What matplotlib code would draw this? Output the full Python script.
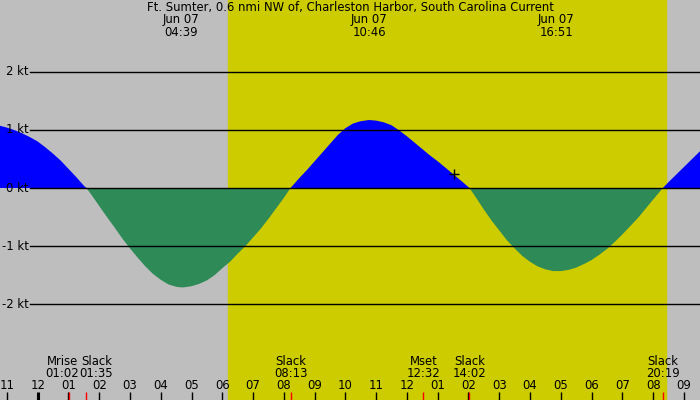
import matplotlib
matplotlib.use("Agg")
import matplotlib.pyplot as plt
import matplotlib.transforms as mtransforms

# current speed (kt), hours from midnight Jun 07
hours = [-1.5, -1.25, -1.0, -0.75, -0.5, -0.25, 0.0, 0.25, 0.5, 0.75, 1.0, 1.25, 1.5,
         1.583, 1.75, 2.0, 2.25, 2.5, 2.75, 3.0, 3.25, 3.5, 3.75, 4.0, 4.25, 4.5, 4.65,
         4.75, 5.0, 5.25, 5.5, 5.75, 6.0, 6.25, 6.5, 6.75, 7.0, 7.25, 7.5, 7.75, 8.0,
         8.217, 8.5, 8.75, 9.0, 9.25, 9.5, 9.75, 10.0, 10.25, 10.5, 10.767, 11.0, 11.25,
         11.5, 11.75, 12.0, 12.25, 12.5, 12.75, 13.0, 13.25, 13.5, 13.75, 14.0, 14.033,
         14.25, 14.5, 14.75, 15.0, 15.25, 15.5, 15.75, 16.0, 16.25, 16.5, 16.75, 16.85,
         17.0, 17.25, 17.5, 17.75, 18.0, 18.25, 18.5, 18.75, 19.0, 19.25, 19.5, 19.75,
         20.0, 20.317, 20.5, 20.75, 21.0, 21.25, 21.5, 21.75, 22.0]
speed = [1.10, 1.075, 1.04, 0.995, 0.94, 0.875, 0.80, 0.70, 0.59, 0.47, 0.33, 0.19, 0.04,
         0.0, -0.12, -0.31, -0.50, -0.68, -0.87, -1.04, -1.20, -1.35, -1.48, -1.58, -1.66,
         -1.70, -1.71, -1.71, -1.69, -1.65, -1.59, -1.50, -1.38, -1.27, -1.13, -1.00,
         -0.85, -0.70, -0.53, -0.35, -0.17,
         0.0, 0.17, 0.31, 0.46, 0.61, 0.76, 0.91, 1.03, 1.11, 1.15, 1.17, 1.16, 1.13,
         1.08, 0.99, 0.89, 0.78, 0.67, 0.56, 0.46, 0.35, 0.24, 0.13, 0.015, 0.0,
         -0.17, -0.37, -0.56, -0.73, -0.90, -1.04, -1.17, -1.27, -1.35, -1.40, -1.43, -1.43,
         -1.43, -1.41, -1.37, -1.31, -1.24, -1.15, -1.05, -0.93, -0.80, -0.66, -0.52, -0.36,
         -0.20, 0.0, 0.10, 0.23, 0.36, 0.49, 0.62, 0.74, 0.85]

title = "Ft. Sumter, 0.6 nmi NW of, Charleston Harbor, South Carolina Current"

# max current labels along the top
peak_hours = [-1.84, 4.65, 10.767, 16.85]
peak_dates = ["Jun 06", "Jun 07", "Jun 07", "Jun 07"]
peak_times = ["22:10", "04:39", "10:46", "16:51"]

# slack / moon events along the bottom
event_hours = [1.033, 1.583, 8.217, 12.533, 14.033, 20.317]
event_names = ["Mrise", "Slack", "Slack", "Mset", "Slack", "Slack"]
event_times = ["01:02", "01:35", "08:13", "12:32", "14:02", "20:19"]
event_nudge = [-7, 10, 0, 0, 0, 0]  # px, to keep labels apart

tick_hours = list(range(-1, 22))
tick_labels = ["11", "12", "01", "02", "03", "04", "05", "06", "07", "08", "09", "10",
               "11", "12", "01", "02", "03", "04", "05", "06", "07", "08", "09"]

kt_levels = [2, 1, 0, -1, -2]
sunrise, sunset = 6.18, 20.42
now_hour, now_speed = 13.54, 0.236

GRAY = "#bebebe"
YELLOW = "#cccc00"
FLOOD = "#0000ff"
EBB = "#2e8b57"
FS = 8.4

fig = plt.figure(figsize=(7, 4), dpi=100)
fig.patch.set_facecolor(GRAY)
ax = fig.add_axes([0, 0, 1, 1])
ax.set_facecolor(GRAY)
ax.set_xlim(-1.225, 21.524)
ax.set_ylim(-3.649, 3.236)
for s in ax.spines.values():
    s.set_visible(False)
ax.set_xticks([])
ax.set_yticks([])

ax.axvspan(sunrise, sunset, color=YELLOW, zorder=0)

ax.fill_between(hours, speed, 0, where=[v >= 0 for v in speed], interpolate=True,
                color=FLOOD, lw=0, zorder=1)
ax.fill_between(hours, speed, 0, where=[v <= 0 for v in speed], interpolate=True,
                color=EBB, lw=0, zorder=1)

trans_y = mtransforms.blended_transform_factory(ax.transAxes, ax.transData)
trans_x = mtransforms.blended_transform_factory(ax.transData, ax.transAxes)

for k in kt_levels:
    ax.axhline(k, xmin=30 / 700, color="black", lw=1, zorder=2)
    ax.text(28.5 / 700, k, "%d kt" % k, transform=trans_y, ha="right", va="center",
            fontsize=FS, zorder=3)

ax.plot([now_hour], [now_speed], marker="+", color="black", markersize=7.5, mew=1,
        zorder=4)

# top
ax.text(0.5, 1 - 7 / 400, title, transform=ax.transAxes, ha="center", va="center",
        fontsize=FS)
for h, d, t in zip(peak_hours, peak_dates, peak_times):
    ax.text(h, 1 - 20 / 400, d, transform=trans_x, ha="center", va="center", fontsize=FS)
    ax.text(h, 1 - 32 / 400, t, transform=trans_x, ha="center", va="center", fontsize=FS)

# bottom hour ticks
for h, lab in zip(tick_hours, tick_labels):
    ax.plot([h, h], [0, 8 / 400], transform=trans_x, color="black",
            lw=2.2 if h == 0 else 1, solid_capstyle="butt", zorder=3)
    ax.text(h, 14.5 / 400, lab, transform=trans_x, ha="center", va="center", fontsize=FS)

for h, name, t, dx in zip(event_hours, event_names, event_times, event_nudge):
    ax.plot([h, h], [0, 8 / 400], transform=trans_x, color="red", lw=1,
            solid_capstyle="butt", zorder=3)
    ax.annotate(name, (h, 1 - 361.5 / 400), xycoords=trans_x, xytext=(dx * 0.72, 0),
                textcoords="offset points", ha="center", va="center", fontsize=FS)
    ax.annotate(t, (h, 1 - 373.5 / 400), xycoords=trans_x, xytext=(dx * 0.72, 0),
                textcoords="offset points", ha="center", va="center", fontsize=FS)

fig.savefig("out.png", dpi=100, facecolor=GRAY)
